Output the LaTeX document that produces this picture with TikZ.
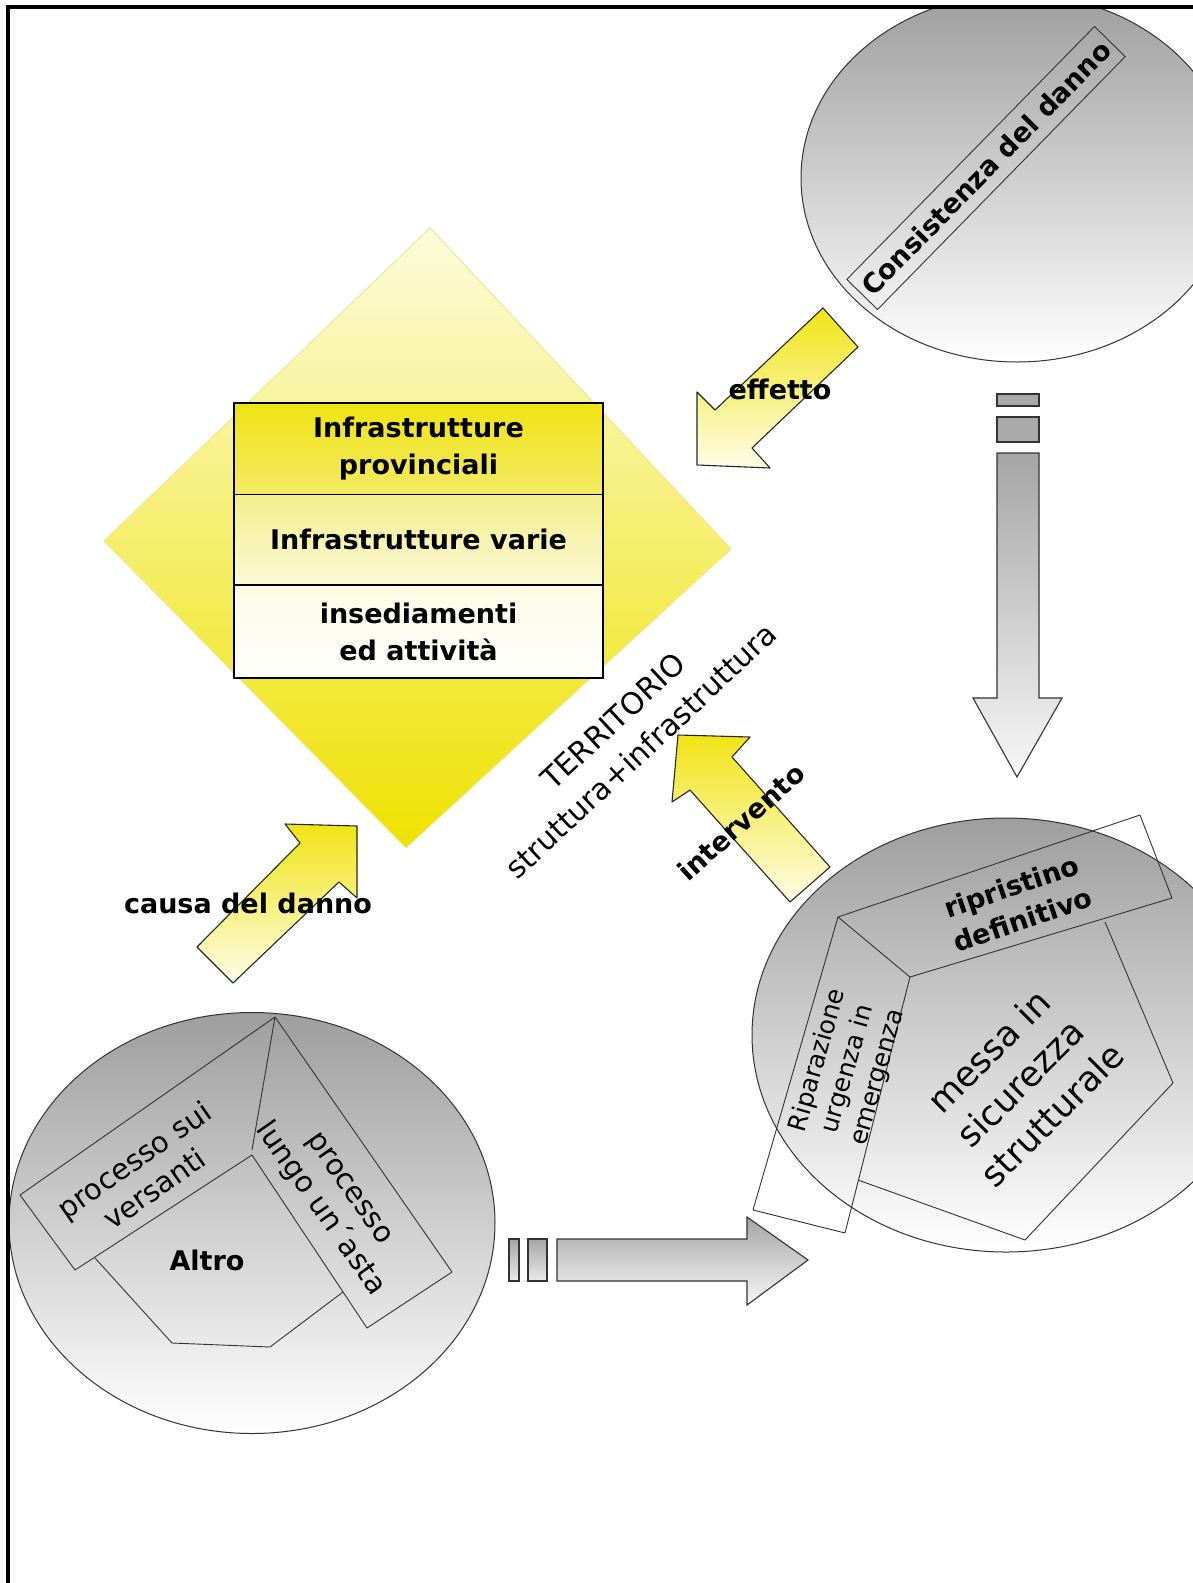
\documentclass[tikz,border=0pt]{standalone}
\usepackage{fontspec}
\setmainfont{DejaVu Sans}
\usetikzlibrary{shapes.geometric}
\definecolor{yel}{RGB}{240,228,20}
\definecolor{paleyel}{RGB}{254,253,232}
\definecolor{circgray}{RGB}{158,158,158}
\definecolor{argray}{RGB}{165,165,165}
\definecolor{dmtop}{RGB}{253,251,220}
\definecolor{dmbot}{RGB}{238,226,0}
\definecolor{dmline}{RGB}{238,232,150}
\definecolor{rowa}{RGB}{243,234,100}
\definecolor{rowb}{RGB}{244,238,140}
\definecolor{rowc}{RGB}{251,249,215}
\definecolor{rowd}{RGB}{252,251,228}
\begin{document}
\begin{tikzpicture}[x=1pt,y=-1pt,
  circ/.style={ellipse, draw=black!80, line width=1pt, top color=circgray, bottom color=white, inner sep=0pt},
  yarrow/.style={draw=black!85, line width=1.1pt, top color=yel, bottom color=paleyel, line join=round},
  garrow/.style={draw=black!80, line width=1.1pt, top color=argray, bottom color=black!3},
  gbox/.style={draw=black!80, line width=1.1pt, fill=argray!95},
  gboxs/.style={draw=black!80, line width=1.1pt, top color=argray, bottom color=black!8},
  bftxt/.style={font=\fontsize{27}{35}\selectfont\bfseries, align=center, inner sep=0pt},
  rowbox/.style={draw=black, line width=1.2pt, minimum width=369pt, inner sep=0pt, align=center,
                 font=\fontsize{27}{37}\selectfont\bfseries},
  inl/.style={draw=black!80, line width=0.9pt, line join=round},
  regtxt/.style={align=center, inner sep=0pt}
]
\useasboundingbox (0,0) rectangle (1193,1583);
\clip (0,0) rectangle (1193,1583);
\fill[white] (0,0) rectangle (1193,1583);

% ---------- circles ----------
\begin{scope}
\clip (9,9) rectangle (1193,1583);
\node[circ, minimum width=432pt, minimum height=368pt] (c1) at (1017,178) {};
\end{scope}
\node[circ, minimum width=508pt, minimum height=434pt] (c2) at (1006,1035) {};
\node[circ, minimum width=486pt, minimum height=421pt] (c3) at (252,1223) {};

% ---------- top-right box ----------
\node[bftxt, draw=black!80, line width=0.9pt, rotate=45.6, minimum width=354pt, minimum height=43pt]
  (cons) at (986,168) {Consistenza del danno};

% ---------- bottom-right shapes ----------
\draw[inl] (838,917) -- (1140,815) -- (1172,898) -- (910,977) -- cycle;
\draw[inl] (838,917) -- (753,1210) -- (845,1233) -- (910,977);
\draw[inl] (1105,922) -- (1173,1083) -- (1025,1240) -- (858,1180);
\node[bftxt, rotate=18.7] (ripr) at (1017,903) {ripristino\\definitivo};
\node[regtxt, font=\fontsize{25}{31}\selectfont, rotate=74] (ripa) at (848,1069) {Riparazione\\urgenza in\\emergenza};
\node[regtxt, font=\fontsize{35}{45}\selectfont, rotate=45] (messa) at (1020,1083) {messa in\\sicurezza\\strutturale};

% ---------- bottom-left shapes ----------
\draw[inl] (75,1270) -- (20,1195) -- (275,1017) -- (252,1150);
\draw[inl] (75,1270) -- (252,1155) -- (367,1328) -- (452,1272) -- (275,1017);
\draw[inl] (95,1258) -- (172,1343) -- (270,1347) -- (343,1292);
\node[regtxt, font=\fontsize{29}{35}\selectfont, rotate=35] (vers) at (144,1174) {processo sui\\versanti};
\node[regtxt, font=\fontsize{29}{36}\selectfont, rotate=-55] (lungo) at (333,1200) {processo\\lungo un´asta};
\node[bftxt] (altro) at (207,1260) {Altro};

% ---------- diamond and table ----------
\draw[draw=dmline, line width=1pt, top color=dmtop, bottom color=dmbot]
  (430,228) coordinate (dN) -- (731,549) coordinate (dE) -- (406,848) coordinate (dS) -- (104,541) coordinate (dW) -- cycle;
\node[rowbox, minimum height=91.5pt, top color=yel, bottom color=rowa]
  (row1) at (418.5,448.75) {Infrastrutture\\provinciali};
\node[rowbox, minimum height=90.5pt, top color=rowb, bottom color=rowc]
  (row2) at (418.5,539.75) {Infrastrutture varie};
\node[rowbox, minimum height=93pt, top color=rowd, bottom color=white]
  (row3) at (418.5,631.5) {insediamenti\\ed attività};

% ---------- yellow arrows ----------
\draw[yarrow] (697,465) -- (697,392) -- (715,410) -- (823,308) -- (858,347) -- (752,448) -- (770,468) -- cycle;
\draw[yarrow] (357,826) -- (285,824) -- (300,843) -- (197,947) -- (233,983) -- (339,882) -- (357,898) -- cycle;
\draw[yarrow] (678,735) -- (750,737) -- (732,757) -- (830,867) -- (790,902) -- (690,790) -- (672,802) -- cycle;
\node[bftxt] (eff) at (780,389) {effetto};
\node[bftxt] (causa) at (248,903) {causa del danno};
\node[bftxt, rotate=42] (interv) at (741,822) {intervento};
\node[regtxt, font=\fontsize{30}{41}\selectfont, rotate=43] (terr) at (627,736) {TERRITORIO\\struttura+infrastruttura};

% ---------- gray arrows ----------
\draw[gbox] (997,394) rectangle (1039,406);
\draw[gbox] (997,417) rectangle (1039,442);
\draw[garrow] (997,453) -- (1039,453) -- (1039,698) -- (1062,698) -- (1017,777) -- (973,698) -- (997,698) -- cycle;
\draw[gboxs] (509,1239) rectangle (519,1281);
\draw[gboxs] (528,1239) rectangle (547,1281);
\draw[garrow] (557,1239) -- (747,1239) -- (747,1217) -- (808,1260) -- (747,1305) -- (747,1281) -- (557,1281) -- cycle;

% ---------- frame ----------
\draw[line width=3.5pt] (8,1600) -- (8,7) -- (1210,7);
\end{tikzpicture}
\end{document}
